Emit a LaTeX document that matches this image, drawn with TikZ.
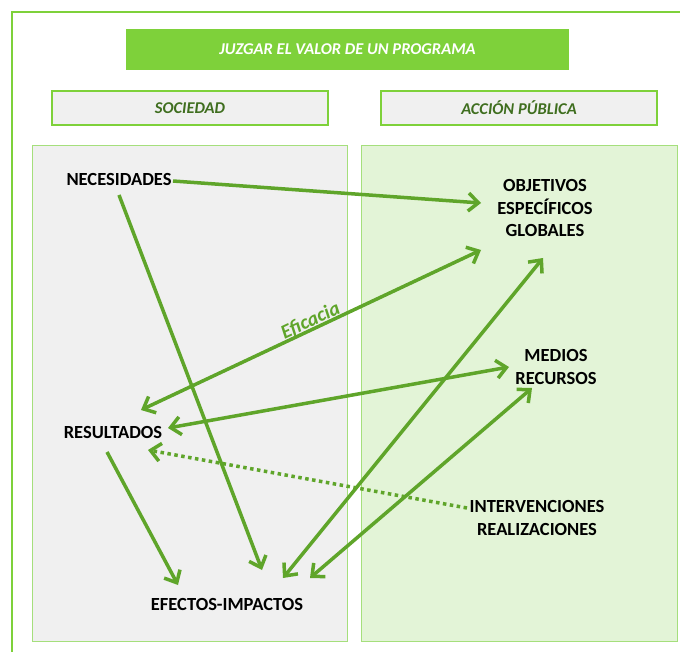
\documentclass[tikz,border=0pt]{standalone}
\usepackage{fontspec}
\setmainfont{Carlito}
\usetikzlibrary{arrows.meta,calc}

\definecolor{verdeTit}{HTML}{7ED13A}
\definecolor{verdeFlecha}{HTML}{5FA52A}
\definecolor{verdeBorde}{HTML}{A5DF7C}
\definecolor{verdeTexto}{HTML}{3F6E1F}
\definecolor{grisPanel}{HTML}{F0F0F0}
\definecolor{verdePanel}{HTML}{E3F4D7}

\tikzset{
  etiq/.style={font=\bfseries\fontsize{18.5}{22.5}\selectfont, align=center, inner sep=0pt},
  cabecera/.style={draw=verdeTit, line width=1.5, fill=grisPanel, minimum width=276, minimum height=34,
    font=\bfseries\itshape\fontsize{16.5}{18}\selectfont, text=verdeTexto},
  panel/.style={draw=verdeBorde, line width=1},
  flecha/.style={draw=verdeFlecha, line width=3.5, -{Straight Barb[length=10pt,width=18pt]}},
  flecha2/.style={draw=verdeFlecha, line width=3.5, {Straight Barb[length=10pt,width=18pt]}-{Straight Barb[length=10pt,width=18pt]}},
}

\begin{document}
\begin{tikzpicture}[x=1pt, y=-1pt]
    \clip (0,0) rectangle (680,652);
    \fill[white] (0,0) rectangle (680,652);

    % marco exterior
    \draw[verdeTit, line width=2] (12,12) rectangle (720,720);

    % titulo y cabeceras
    \node[fill=verdeTit, minimum width=443, minimum height=41, text=white,
          font=\bfseries\itshape\fontsize{16.5}{18}\selectfont] (tit) at (347.5,49.5) {JUZGAR EL VALOR DE UN PROGRAMA};
    \node[cabecera] (soc) at (190,108) {SOCIEDAD};
    \node[cabecera] (acc) at (519,108) {ACCIÓN PÚBLICA};

    % paneles
    \draw[panel, fill=grisPanel] (32,146) rectangle (347,641);
    \draw[panel, fill=verdePanel] (361,146) rectangle (677,641);

    % conceptos
    \node[etiq] (nec) at (119,179) {NECESIDADES};
    \node[etiq] (obj) at (545,208) {OBJETIVOS\\ESPECÍFICOS\\GLOBALES};
    \node[etiq] (med) at (556,367) {MEDIOS\\RECURSOS};
    \node[etiq] (res) at (113,433) {RESULTADOS};
    \node[etiq] (int) at (537,518) {INTERVENCIONES\\REALIZACIONES};
    \node[etiq] (eff) at (227,604) {EFECTOS-IMPACTOS};

    % flechas
    \draw[flecha] ($(nec)+(54,2)$) -- ($(obj)+(-64,-5)$);
    \draw[flecha] ($(nec)+(0,16)$) -- ($(eff)+(35,-34)$);
    \draw[flecha2] ($(res)+(28,-23)$) -- ($(obj)+(-64,42)$);
    \draw[flecha2] ($(res)+(55,-5)$) -- ($(med)+(-47,0)$);
    \draw[flecha2] ($(eff)+(56,-26)$) -- ($(obj)+(-2,50)$);
    \draw[flecha2] ($(eff)+(83,-26)$) -- ($(med)+(-24,21)$);
    \draw[flecha] ($(res)+(-6,19)$) -- ($(eff)+(-49,-19)$);
    \draw[flecha, dash pattern=on 3.5pt off 3.5pt] ($(int)+(-70,-10)$) -- ($(res)+(35,17)$);

    \node[rotate=25, anchor=base, inner sep=0pt, text=verdeFlecha,
          font=\bfseries\itshape\fontsize{20}{22}\selectfont] (efi) at (313,326) {Eficacia};
\end{tikzpicture}
\end{document}
